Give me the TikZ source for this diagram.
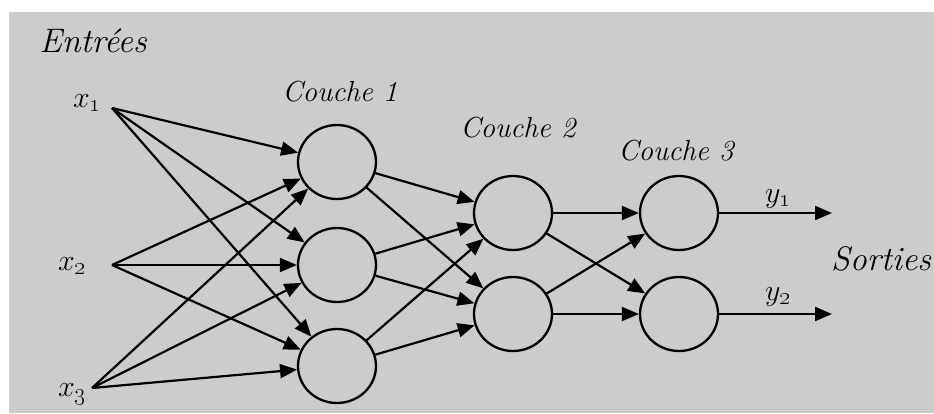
\RequirePackage{fix-cm}
\documentclass[tikz,border=0pt]{standalone}
\usetikzlibrary{arrows.meta,shapes.geometric}
\definecolor{bg}{RGB}{204,204,204}
\newcommand{\subnum}[1]{\mbox{\fontsize{24}{24}\selectfont\oldstylenums{#1}}}
\begin{document}
\begin{tikzpicture}[x=1pt,y=-1pt,
  neuron/.style={draw,line width=2.3pt,ellipse,minimum width=78pt,minimum height=74pt,inner sep=0pt},
  biglbl/.style={font=\fontsize{34}{38}\selectfont\itshape,inner sep=0pt,anchor=base},
  lbl/.style={font=\fontsize{29}{33}\selectfont\itshape,inner sep=0pt,anchor=base},
  mlbl/.style={font=\fontsize{30}{34}\selectfont,inner sep=0pt,anchor=base west},
  conn/.style={line width=2.2pt,-{Triangle[length=17pt,width=14pt]}}]
\useasboundingbox (0,0) rectangle (934,413);
\fill[white] (0,0) rectangle (934,413);
\fill[bg] (9,12) rectangle (934,413);
% labels
\node[biglbl] (entrees) at (93,52) {Entrées};
\node[lbl] (c1) at (340,101) {Couche 1};
\node[lbl] (c2) at (518,137) {Couche 2};
\node[lbl] (c3) at (676,160) {Couche 3};
\node[biglbl] (sorties) at (881,270) {Sorties};
\node[mlbl] (x1) at (73,107) {$x_{\subnum{1}}$};
\node[mlbl] (x2) at (58,270) {$x_{\subnum{2}}$};
\node[mlbl] (x3) at (58,396) {$x_{\subnum{3}}$};
\node[mlbl] (y1) at (765,202) {$y_{\subnum{1}}$};
\node[mlbl] (y2) at (765,300) {$y_{\subnum{2}}$};
% input points
\coordinate (i1) at (112,108);
\coordinate (i2) at (112,265);
\coordinate (i3) at (92,388);
% neurons
\node[neuron] (h11) at (337,162) {};
\node[neuron] (h12) at (337,265) {};
\node[neuron] (h13) at (337,366) {};
\node[neuron] (h21) at (513,213) {};
\node[neuron] (h22) at (513,314) {};
\node[neuron] (h31) at (679,213) {};
\node[neuron] (h32) at (679,314) {};
\coordinate (o1) at (832,213);
\coordinate (o2) at (832,314);
% connections
\foreach \i in {i1,i2,i3}
  \foreach \h in {h11,h12,h13}
    \draw[conn] (\i) -- (\h);
\foreach \a in {h11,h12,h13}
  \foreach \b in {h21,h22}
    \draw[conn] (\a) -- (\b);
\foreach \a in {h21,h22}
  \foreach \b in {h31,h32}
    \draw[conn] (\a) -- (\b);
\draw[conn] (h31) -- (o1);
\draw[conn] (h32) -- (o2);
\end{tikzpicture}
\end{document}
